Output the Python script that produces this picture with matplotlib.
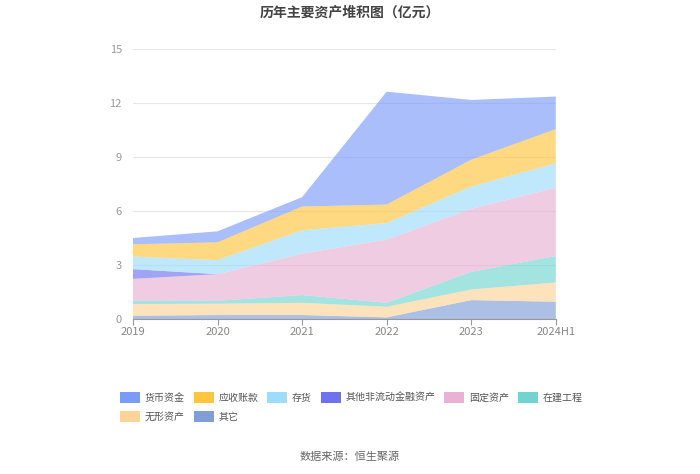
import matplotlib.pyplot as plt
from matplotlib.patches import Patch

plt.rcParams['font.family'] = ['Noto Sans CJK SC', 'DejaVu Sans']

years = ['2019', '2020', '2021', '2022', '2023', '2024H1']

# 亿元, stacked bottom -> top
qita = [0.18, 0.22, 0.22, 0.09, 1.05, 0.96]
wuxing = [0.65, 0.63, 0.68, 0.59, 0.59, 1.07]
zaijian = [0.18, 0.16, 0.43, 0.22, 0.98, 1.47]
guding = [1.22, 1.48, 2.30, 3.51, 3.50, 3.79]
qita_jinrong = [0.54, 0.0, 0.0, 0.0, 0.0, 0.0]
cunhuo = [0.70, 0.78, 1.30, 0.92, 1.24, 1.36]
yingshou = [0.68, 0.99, 1.32, 1.03, 1.49, 1.90]
huobi = [0.35, 0.61, 0.52, 6.27, 3.32, 1.81]

names = ['其它', '无形资产', '在建工程', '固定资产', '其他非流动金融资产', '存货', '应收账款', '货币资金']
series = [qita, wuxing, zaijian, guding, qita_jinrong, cunhuo, yingshou, huobi]
colors = ['#7f9fd6', '#fdd398', '#72d4d0', '#e8b1d5', '#6f72ef', '#9ddcfb', '#ffc53d', '#7b9bf8']

fig = plt.figure(figsize=(7, 4.74), dpi=100)
ax = fig.add_axes([0.19, 0.327, 0.604, 0.5696])

x = list(range(len(years)))
ax.stackplot(x, *series, colors=colors, alpha=0.65, linewidth=0)

ax.set_xlim(0, len(years) - 1)
ax.set_ylim(0, 15)
ax.set_yticks([0, 3, 6, 9, 12, 15])
ax.set_xticks(x)
ax.set_xticklabels(years)
ax.grid(axis='y', color='#e6e6e6', linewidth=0.8)
ax.set_axisbelow(True)
for s in ['top', 'right', 'left']:
    ax.spines[s].set_visible(False)
ax.spines['bottom'].set_color('#999999')
ax.tick_params(axis='y', length=0, labelsize=8, labelcolor='#999999', pad=8)
ax.tick_params(axis='x', length=4, color='#999999', labelsize=8, labelcolor='#888888', pad=2)

fig.text(0.5, 0.974, '历年主要资产堆积图（亿元）', ha='center', va='center',
         fontsize=10, fontweight='bold', color='#444444')

# legend order laid out so column-major fill reads row-wise
order = [7, 1, 6, 0, 5, 4, 3, 2]
handles = [Patch(facecolor=colors[i], edgecolor='none') for i in order]
labels = [names[i] for i in order]
fig.legend(handles, labels, ncol=6, loc='center', bbox_to_anchor=(0.502, 0.141),
           frameon=False, fontsize=7.2, handlelength=2.0, handleheight=1.35,
           handletextpad=0.45, columnspacing=0.9, labelspacing=0.8,
           borderpad=0, labelcolor='#555555')

fig.text(0.5, 0.036, '数据来源：恒生聚源', ha='center', va='center',
         fontsize=8, color='#666666')

fig.savefig('out.png', dpi=100)
